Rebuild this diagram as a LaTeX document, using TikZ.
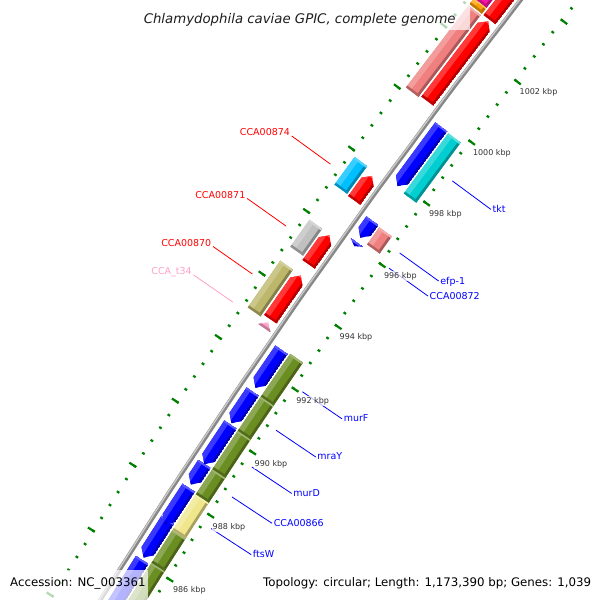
\documentclass[tikz,border=0pt]{standalone}
\usepackage{fontspec}
\setmainfont{DejaVu Sans}
\definecolor{cgred}{RGB}{255,0,0}
\definecolor{cgblue}{RGB}{0,0,255}
\definecolor{cgolive}{RGB}{107,142,35}
\definecolor{cgkhaki}{RGB}{240,230,140}
\definecolor{cgturq}{RGB}{0,206,209}
\definecolor{cgcoral}{RGB}{240,128,128}
\definecolor{cgsilver}{RGB}{192,192,192}
\definecolor{cgdkhaki}{RGB}{189,183,107}
\definecolor{cgsky}{RGB}{0,191,255}
\definecolor{cgorange}{RGB}{255,160,0}
\definecolor{cgmag}{RGB}{255,20,170}
\definecolor{cgpink}{RGB}{255,160,200}
\definecolor{cgtick}{RGB}{0,128,0}
\definecolor{cgtext}{RGB}{51,51,51}
\definecolor{cgback}{RGB}{135,135,135}
\pgfmathdeclarefunction{kang}{1}{\pgfmathparse{-214.9625-(#1-994)*0.306803}}
% bands: r1 r2 k1 k2 colour
\newcommand{\cgbands}[5]{%
  \fill[#5] ({kang(#3)}:{7090+#1}) -- ({kang(#4)}:{7090+#1}) -- ({kang(#4)}:{7090+#2}) -- ({kang(#3)}:{7090+#2}) -- cycle;
  \fill[#5!78!white] ({kang(#3)}:{7090+0.65*#2+0.35*#1}) -- ({kang(#4)}:{7090+0.65*#2+0.35*#1}) -- ({kang(#4)}:{7090+#2}) -- ({kang(#3)}:{7090+#2}) -- cycle;
  \fill[#5!70!black] ({kang(#3)}:{7090+#1}) -- ({kang(#4)}:{7090+#1}) -- ({kang(#4)}:{7090+0.83*#1+0.17*#2}) -- ({kang(#3)}:{7090+0.83*#1+0.17*#2}) -- cycle;
  \fill[#5!75!black] ({kang(#3)}:{7090+#1}) -- ({kang(#3+0.06)}:{7090+#1}) -- ({kang(#3+0.06)}:{7090+#2}) -- ({kang(#3)}:{7090+#2}) -- cycle;
  \fill[#5!65!white] ({kang(#4-0.05)}:{7090+#1}) -- ({kang(#4)}:{7090+#1}) -- ({kang(#4)}:{7090+#2}) -- ({kang(#4-0.05)}:{7090+#2}) -- cycle;}
\newcommand{\cgbox}[5]{\begin{scope}\cgbands{#1}{#2}{#3}{#4}{#5}\end{scope}}
\newcommand{\cgfwd}[5]{\begin{scope}
  \clip ({kang(#3)}:{7090+#1}) -- ({kang(max(#3,#4-0.2))}:{7090+#1}) -- ({kang(#4)}:{7090+(#1+#2)/2}) -- ({kang(max(#3,#4-0.2))}:{7090+#2}) -- ({kang(#3)}:{7090+#2}) -- cycle;
  \cgbands{#1}{#2}{#3}{#4}{#5}\end{scope}}
\newcommand{\cgrev}[5]{\begin{scope}
  \clip ({kang(#3)}:{7090+(#1+#2)/2}) -- ({kang(min(#4,#3+0.2))}:{7090+#1}) -- ({kang(#4)}:{7090+#1}) -- ({kang(#4)}:{7090+#2}) -- ({kang(min(#4,#3+0.2))}:{7090+#2}) -- cycle;
  \cgbands{#1}{#2}{#3}{#4}{#5}\end{scope}}
\begin{document}
\begin{tikzpicture}[x=1pt,y=1pt,
  tickdot/.style={cgtick, line width=2.2pt},
  tickdash/.style={cgtick, line width=2.2pt},
  lblin/.style={font=\fontsize{9.5}{11}\selectfont, text=cgblue, inner xsep=1.5pt, inner ysep=0pt, text height=6pt, text depth=0pt, anchor=west},
  lblout/.style={font=\fontsize{9.5}{11}\selectfont, text=cgred, inner xsep=1.5pt, inner ysep=0pt, text height=6pt, text depth=0pt, anchor=south east},
  leadblue/.style={cgblue, line width=0.8pt},
  leadred/.style={cgred, line width=0.8pt},
  leadpink/.style={cgpink, line width=0.8pt},
  ticklbl/.style={font=\fontsize{8}{9}\selectfont, text=cgtext, fill=white, fill opacity=0.7, text opacity=1, inner xsep=1pt, inner ysep=1pt, anchor=base west},
  backbone/.style={cgback, line width=4.2pt},
  backhi/.style={cgback!45!white, line width=1.4pt},
  veil/.style={white, fill opacity=0.7},
  foot/.style={font=\fontsize{11.8}{13}\selectfont, text=black, inner sep=0pt, anchor=base west}]
\useasboundingbox (0,0) rectangle (600,-600);
\clip (0,0) rectangle (600,-600);
\begin{scope}[shift={(6148.7,-4389.8)}]
  % ticks
  \foreach \i in {0,...,53} {
    \pgfmathsetmacro{\kk}{983.6+0.4*\i}
    \draw[tickdot] ({kang(\kk)}:7091.3) -- ({kang(\kk)}:7094.2);
    \draw[tickdot] ({kang(\kk)}:7179.3) -- ({kang(\kk)}:7182.2);
  }
  \foreach \k in {984,986,...,1004} {
    \draw[tickdash] ({kang(\k)}:7086.2) -- ({kang(\k)}:7094.2);
    \draw[tickdash] ({kang(\k)}:7179.3) -- ({kang(\k)}:7187.3);
  }
  % backbone
  \draw[backbone] plot[domain=983:1005, samples=45] ({kang(\x)}:7137.8);
  \draw[backhi] plot[domain=983:1005, samples=45] ({kang(\x)}:7138.8);
  % inner ring 2
  \cgbox{9}{24.5}{983.0}{986.12}{cgolive}
  \cgbox{9}{24.5}{986.12}{987.14}{cgolive}
  \cgbox{9}{24.5}{987.14}{988.26}{cgkhaki}
  \cgbox{9}{24.5}{988.26}{989.05}{cgolive}
  \cgbox{9}{24.5}{989.05}{990.26}{cgolive}
  \cgbox{9}{24.5}{990.26}{991.34}{cgolive}
  \cgbox{9}{24.5}{991.34}{992.7}{cgolive}
  \cgbox{9}{24.5}{996.21}{996.76}{cgcoral}
  \cgbox{9}{24.5}{997.86}{999.82}{cgturq}
  % inner ring 1
  \cgrev{26.5}{41.5}{983.0}{986.05}{cgblue}
  \cgrev{26.5}{41.5}{986.12}{987.3}{cgblue}
  \cgrev{26.5}{41.5}{987.15}{988.30}{cgblue}
  \cgrev{26.5}{41.5}{988.40}{989.05}{cgblue}
  \cgrev{26.5}{41.5}{989.04}{990.29}{cgblue}
  \cgrev{26.5}{41.5}{990.33}{991.33}{cgblue}
  \cgrev{26.5}{41.5}{991.45}{992.66}{cgblue}
  \cgrev{26.5}{41.5}{995.98}{996.10}{cgblue}
  \cgrev{26.5}{41.5}{996.25}{996.80}{cgblue}
  \cgrev{26.5}{41.5}{997.92}{999.85}{cgblue}
  % outer ring 1
  \cgfwd{53}{68}{992.87}{993.05}{cgpink}
  \cgfwd{53}{68}{993.15}{994.54}{cgred}
  \cgfwd{53}{68}{994.90}{995.83}{cgred}
  \cgfwd{53}{68}{996.95}{997.74}{cgred}
  \cgfwd{53}{68}{1000.17}{1002.79}{cgred}
  \cgfwd{53}{68}{1002.85}{1005}{cgred}
  % outer ring 2
  \cgbox{70.2}{85.8}{993.07}{994.55}{cgdkhaki}
  \cgbox{70.2}{85.8}{995.0}{995.86}{cgsilver}
  \cgbox{70.2}{85.8}{996.98}{997.87}{cgsky}
  \cgbox{70.2}{85.8}{1000.12}{1002.8}{cgcoral}
  \cgbox{70.2}{85.8}{1002.85}{1003.05}{cgorange}
  \cgbox{70.2}{85.8}{1003.05}{1005}{cgmag}
  % leader anchors
  \coordinate (sMurF) at ({kang(992.06)}:7083);  \coordinate (eMurF) at ({kang(992.06)}:7035);
  \coordinate (sMraY) at ({kang(990.83)}:7083);  \coordinate (eMraY) at ({kang(990.83)}:7035);
  \coordinate (sMurD) at ({kang(989.67)}:7083);  \coordinate (eMurD) at ({kang(989.67)}:7035);
  \coordinate (s866) at ({kang(988.72)}:7083);   \coordinate (e866) at ({kang(988.72)}:7035);
  \coordinate (sFtsW) at ({kang(987.72)}:7083);  \coordinate (eFtsW) at ({kang(987.72)}:7035);
  \coordinate (sEfp) at ({kang(996.53)}:7083);   \coordinate (eEfp) at ({kang(996.53)}:7035);
  \coordinate (s872) at ({kang(996.04)}:7083);   \coordinate (e872) at ({kang(996.04)}:7035);
  \coordinate (sTkt) at ({kang(998.88)}:7083);   \coordinate (eTkt) at ({kang(998.88)}:7035);
  \coordinate (s874) at ({kang(997.35)}:7191);   \coordinate (e874) at ({kang(997.35)}:7239);
  \coordinate (s871) at ({kang(995.37)}:7191);   \coordinate (e871) at ({kang(995.37)}:7239);
  \coordinate (s870) at ({kang(993.85)}:7191);   \coordinate (e870) at ({kang(993.85)}:7239);
  \coordinate (sT34) at ({kang(992.96)}:7191);   \coordinate (eT34) at ({kang(992.96)}:7239);
  % labels
  \node[lblin] (lMurF) at (eMurF) {murF};
  \node[lblin] (lMraY) at (eMraY) {mraY};
  \node[lblin] (lMurD) at (eMurD) {murD};
  \node[lblin] (l866) at (e866) {CCA00866};
  \node[lblin] (lFtsW) at (eFtsW) {ftsW};
  \node[lblin] (lEfp) at (eEfp) {efp-1};
  \node[lblin] (l872) at (e872) {CCA00872};
  \node[lblin] (lTkt) at (eTkt) {tkt};
  \node[lblout] (l874) at (e874) {CCA00874};
  \node[lblout] (l871) at (e871) {CCA00871};
  \node[lblout] (l870) at (e870) {CCA00870};
  \node[lblout, text=cgpink] (lT34) at (eT34) {CCA\_t34};
  \draw[leadblue] (sMurF) -- (lMurF.west);
  \draw[leadblue] (sMraY) -- (lMraY.west);
  \draw[leadblue] (sMurD) -- (lMurD.west);
  \draw[leadblue] (s866) -- (l866.west);
  \draw[leadblue] (sFtsW) -- (lFtsW.west);
  \draw[leadblue] (sEfp) -- (lEfp.west);
  \draw[leadblue] (s872) -- (l872.west);
  \draw[leadblue] (sTkt) -- (lTkt.west);
  \draw[leadred] (s874) -- (l874.south east);
  \draw[leadred] (s871) -- (l871.south east);
  \draw[leadred] (s870) -- (l870.south east);
  \draw[leadpink] (sT34) -- (lT34.south east);
\end{scope}
% tick labels
\node[ticklbl] (t1002) at (518.5,-94.8) {1002 kbp};
\node[ticklbl] (t1000) at (471.8,-155) {1000 kbp};
\node[ticklbl] (t998) at (427.8,-216) {998 kbp};
\node[ticklbl] (t996) at (382.8,-278) {996 kbp};
\node[ticklbl] (t994) at (338.5,-339.5) {994 kbp};
\node[ticklbl] (t992) at (295.2,-403) {992 kbp};
\node[ticklbl] (t990) at (253.5,-466) {990 kbp};
\node[ticklbl] (t988) at (211.5,-529) {988 kbp};
\node[ticklbl] (t986) at (171.8,-592.5) {986 kbp};
% title and footer
\fill[veil] (130,0) rectangle (470,-30);
\node[font=\fontsize{13.3}{15}\selectfont\itshape, text={rgb,255:red,30;green,30;blue,30}, inner sep=0pt, anchor=base] (title) at (299.7,-23.3) {Chlamydophila caviae GPIC, complete genome};
\fill[veil] (4,-570) rectangle (148,-600);
\node[foot] (acc) at (10,-586.5) {Accession: NC\_003361};
\node[foot] (topo) at (263,-586.5) {Topology: circular; Length: 1,173,390 bp; Genes: 1,039};
\end{tikzpicture}
\end{document}
